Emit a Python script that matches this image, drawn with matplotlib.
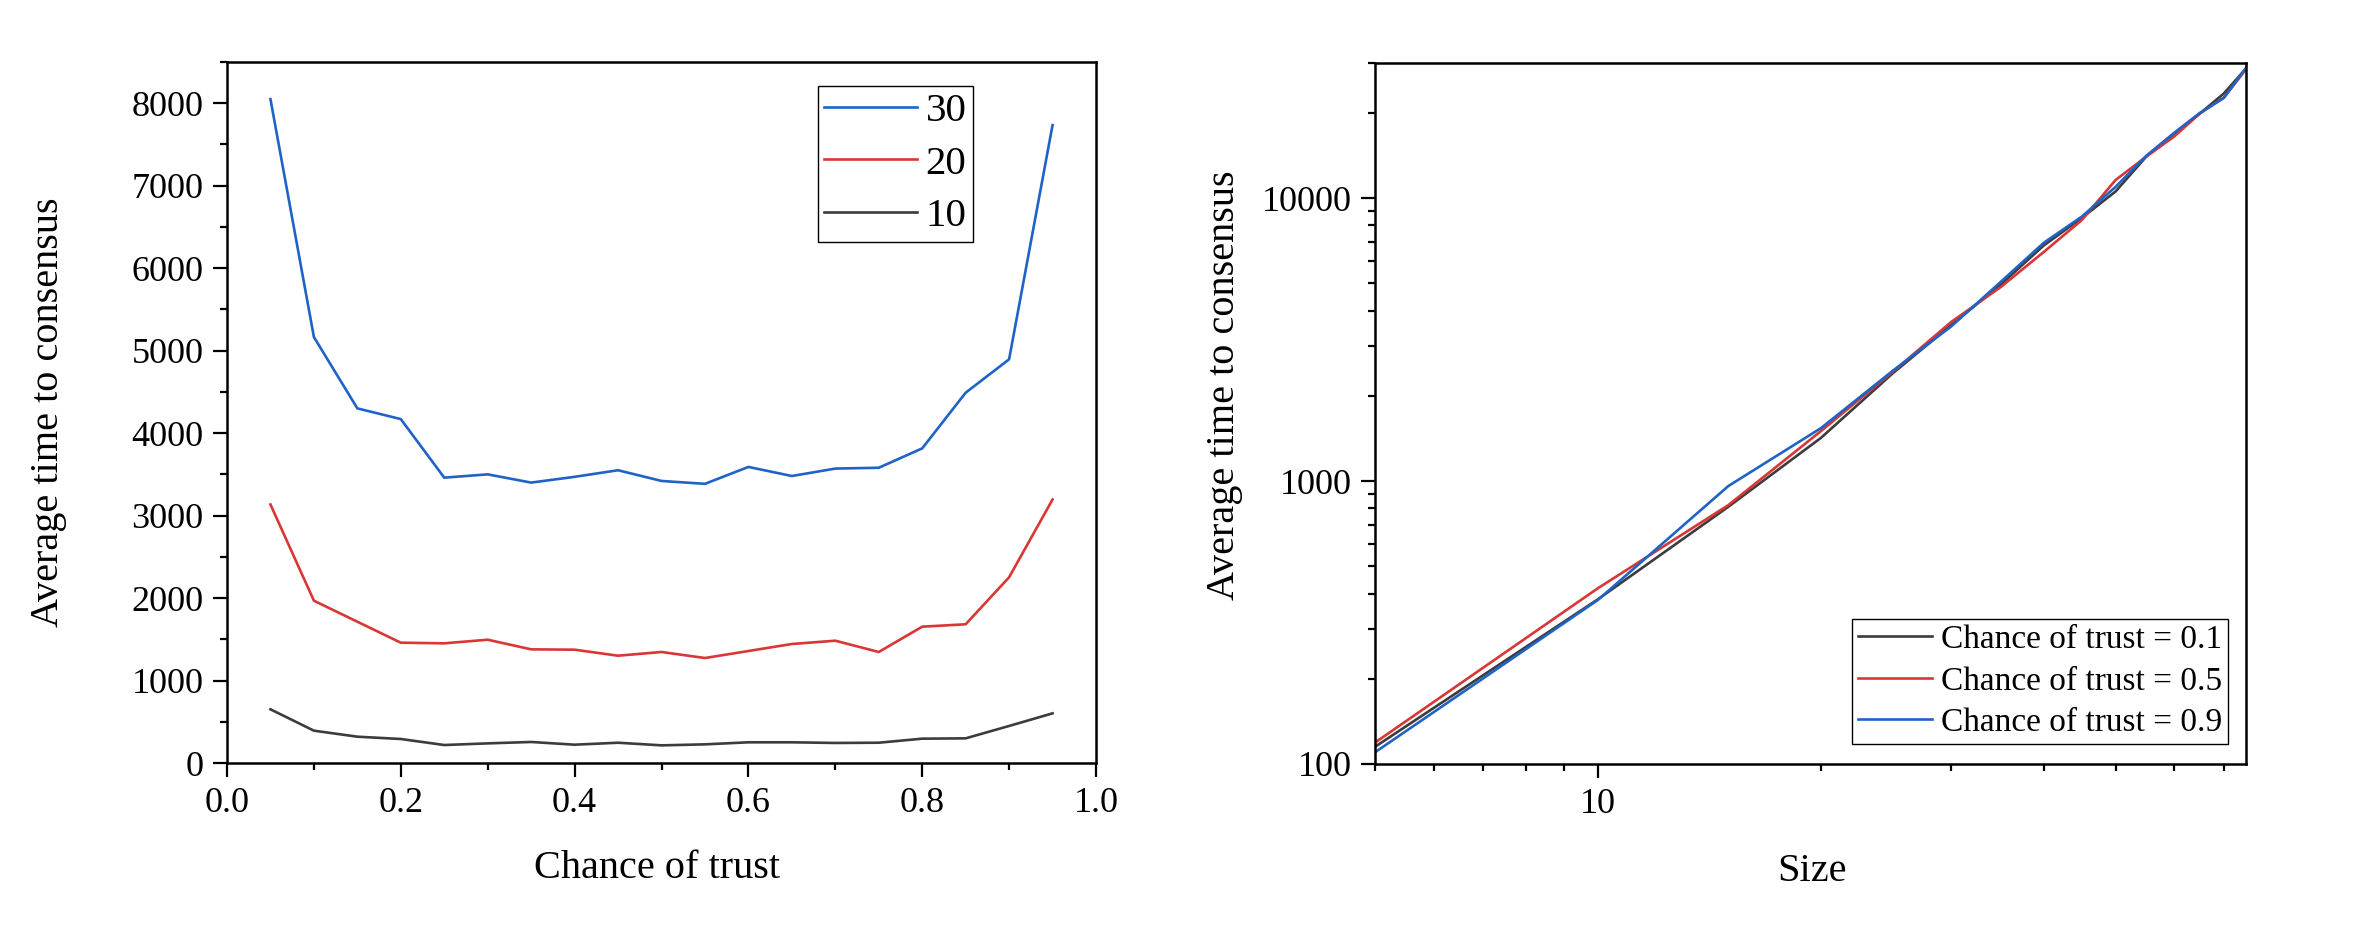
import matplotlib
matplotlib.use('Agg')
import matplotlib.pyplot as plt
from matplotlib.ticker import MultipleLocator, LogLocator, FuncFormatter, NullFormatter

plt.rcParams['font.family'] = ['Liberation Serif', 'DejaVu Serif']

# left panel: average time vs chance of trust, one line per size
trust = [0.05, 0.10, 0.15, 0.20, 0.25, 0.30, 0.35, 0.40, 0.45, 0.50,
         0.55, 0.60, 0.65, 0.70, 0.75, 0.80, 0.85, 0.90, 0.95]
time_30 = [8050, 5165, 4300, 4170, 3460, 3500, 3400, 3470, 3550, 3420,
           3385, 3590, 3480, 3570, 3580, 3815, 4490, 4895, 7735]
time_20 = [3135, 1968, 1713, 1459, 1451, 1495, 1378, 1374, 1301, 1346,
           1273, 1358, 1443, 1483, 1346, 1653, 1682, 2252, 3195]
time_10 = [651, 392, 319, 291, 218, 238, 255, 222, 246, 214,
           226, 251, 251, 243, 246, 295, 299, 449, 602]

# right panel: average time vs size, one line per chance of trust
sizes = [5, 10, 15, 20, 25, 30, 35, 40, 45, 50, 55, 60, 65, 70, 75]
time_p1 = [115, 382, 811, 1420, 2400, 3560, 4950, 6800, 8500, 10550,
           14000, 16900, 19900, 23400, 28700]
time_p5 = [119, 418, 822, 1500, 2430, 3650, 4850, 6450, 8350, 11580,
           14000, 16500, 19900, 22600, 28500]
time_p9 = [110, 380, 960, 1537, 2450, 3520, 5060, 6950, 8590, 10950,
           14100, 17000, 20000, 22600, 28800]

c_black = '#3c3c3c'
c_red = '#d93636'
c_blue = '#1f63c6'
lw = 1.9

fig = plt.figure(figsize=(23.62, 9.26), dpi=100)
ax1 = fig.add_axes([227 / 2362, 163 / 926, 869 / 2362, 701 / 926])
ax2 = fig.add_axes([1375 / 2362, 162 / 926, 871 / 2362, 701 / 926])

ax1.plot(trust, time_30, color=c_blue, lw=lw, label='30')
ax1.plot(trust, time_20, color=c_red, lw=lw, label='20')
ax1.plot(trust, time_10, color=c_black, lw=lw, label='10')
ax1.set_xlim(0, 1.0)
ax1.set_ylim(0, 8500)
ax1.xaxis.set_major_locator(MultipleLocator(0.2))
ax1.xaxis.set_minor_locator(MultipleLocator(0.1))
ax1.yaxis.set_major_locator(MultipleLocator(1000))
ax1.yaxis.set_minor_locator(MultipleLocator(500))
ax1.set_xlabel('Chance of trust', fontsize=29)
ax1.set_ylabel('Average time to consensus', fontsize=29)
ax1.xaxis.set_label_coords(0.495, -0.124)
ax1.yaxis.set_label_coords(-0.184, 0.5)
leg1 = ax1.legend(loc='upper right', bbox_to_anchor=(0.8585, 0.9658),
                  borderaxespad=0, fontsize=29.5, handlelength=2.25,
                  handletextpad=0.22, labelspacing=0.36, borderpad=0.16,
                  fancybox=False, framealpha=1, edgecolor='black')
leg1.get_frame().set_linewidth(1.0)

ax2.plot(sizes, time_p1, color=c_black, lw=lw, label='Chance of trust = 0.1')
ax2.plot(sizes, time_p5, color=c_red, lw=lw, label='Chance of trust = 0.5')
ax2.plot(sizes, time_p9, color=c_blue, lw=lw, label='Chance of trust = 0.9')
ax2.set_xscale('log')
ax2.set_yscale('log')
ax2.set_xlim(5, 75)
ax2.set_ylim(100, 30000)
ax2.xaxis.set_major_locator(LogLocator(base=10))
ax2.xaxis.set_minor_locator(LogLocator(base=10, subs=range(2, 10)))
ax2.yaxis.set_major_locator(LogLocator(base=10))
ax2.yaxis.set_minor_locator(LogLocator(base=10, subs=range(2, 10)))
plain = FuncFormatter(lambda v, p: f'{v:g}')
ax2.xaxis.set_major_formatter(plain)
ax2.yaxis.set_major_formatter(plain)
ax2.xaxis.set_minor_formatter(NullFormatter())
ax2.yaxis.set_minor_formatter(NullFormatter())
ax2.set_xlabel('Size', fontsize=29)
ax2.set_ylabel('Average time to consensus', fontsize=29)
ax2.xaxis.set_label_coords(0.502, -0.127)
ax2.yaxis.set_label_coords(-0.152, 0.541)
leg2 = ax2.legend(loc='lower right', bbox_to_anchor=(0.9793, 0.0285),
                  borderaxespad=0, fontsize=24, handlelength=2.2,
                  handletextpad=0.28, labelspacing=0.33, borderpad=0.18,
                  fancybox=False, framealpha=1, edgecolor='black')
leg2.get_frame().set_linewidth(1.0)

for ax in (ax1, ax2):
    for sp in ax.spines.values():
        sp.set_linewidth(1.8)
    ax.tick_params(which='both', direction='out', top=False, right=False,
                   width=1.6, labelsize=26)
    ax.tick_params(which='major', length=10, pad=7)
    ax.tick_params(which='minor', length=5)

fig.savefig('out.png', dpi=100)
